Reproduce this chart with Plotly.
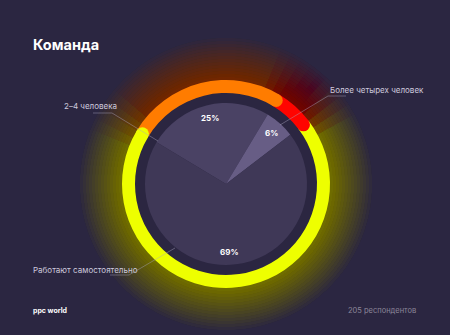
import math
import plotly.graph_objects as go

W, H = 450, 335
BG = "#2b2641"

# ---- data ----
categories = ["2–4 человека", "Более четырех человек", "Работают самостоятельно"]
values = [25, 6, 69]
pct_labels = ["25%", "6%", "69%"]
title_text = "Команда"
footer_left = "ppc world"
footer_right = "205 респондентов"

# ---- style ----
ring_colors = ["#ff7c00", "#ff0400", "#eeff00"]
pie_colors = ["#4a4264", "#675d85", "#3f3857"]
START = -59.0            # degrees clockwise from 12 o'clock
CX, CY = 226, 184        # pixel centre
R_RING, R_RING_IN = 104, 91
R_PIE = 81


def dom(r):
    return dict(x=[(CX - r) / W, (CX + r) / W],
                y=[1 - (CY + r) / H, 1 - (CY - r) / H])


def pt(r, ang):
    a = math.radians(ang)
    return (CX + r * math.sin(a)) / W, 1 - (CY - r * math.cos(a)) / H


fig = go.Figure()

# glow layers (slightly rotated copies soften the angular edges)
n_glow = 14
offsets = [-9, -4.5, 0, 4.5, 9]
for i in range(1, n_glow + 1):
    r = R_RING + 3.0 * i
    for off in offsets:
        fig.add_trace(go.Pie(values=values, labels=categories, sort=False,
                             direction="clockwise", rotation=START + off,
                             hole=(R_RING - 2) / r, domain=dom(r),
                             marker=dict(colors=ring_colors, line=dict(width=0)),
                             opacity=0.0055, textinfo="none", hoverinfo="skip",
                             showlegend=False))

# ring
fig.add_trace(go.Pie(values=values, labels=categories, sort=False,
                     direction="clockwise", rotation=START,
                     hole=R_RING_IN / R_RING, domain=dom(R_RING),
                     marker=dict(colors=ring_colors, line=dict(width=0)),
                     textinfo="none", hoverinfo="label+value", showlegend=False))

# inner pie
fig.add_trace(go.Pie(values=values, labels=categories, sort=False,
                     direction="clockwise", rotation=START,
                     domain=dom(R_PIE),
                     marker=dict(colors=pie_colors, line=dict(width=0)),
                     textinfo="none", hoverinfo="label+value", showlegend=False))

shapes = []
annotations = []
total = sum(values)
cum = START
mids = []
for v, col in zip(values, ring_colors):
    a0 = cum
    a1 = cum + v / total * 360
    mids.append((a0 + a1) / 2)
    # rounded cap at the clockwise end
    rc = (R_RING + R_RING_IN) / 2
    cr = (R_RING - R_RING_IN) / 2
    x, y = pt(rc, a1)
    shapes.append(dict(type="circle", xref="paper", yref="paper",
                       x0=x - cr / W, x1=x + cr / W, y0=y - cr / H, y1=y + cr / H,
                       fillcolor=col, line=dict(width=0), layer="above"))
    cum = a1

for lab, m in zip(pct_labels, mids):
    x, y = pt(R_PIE * 0.84, m)
    annotations.append(dict(text="<b>" + lab + "</b>", x=x, y=y, xref="paper", yref="paper",
                            showarrow=False, font=dict(family="Inter", size=8,
                                                       color="#ffffff"),
                            xanchor="center", yanchor="middle"))

LINE = dict(color="rgba(170,165,190,0.55)", width=0.8)


def seg(x0, y0, x1, y1):
    shapes.append(dict(type="line", xref="paper", yref="paper",
                       x0=x0 / W, x1=x1 / W, y0=1 - y0 / H, y1=1 - y1 / H,
                       line=LINE, layer="above"))


# leader lines (pixel layout)
seg(93, 113, 112, 113); seg(112, 113, 158, 141)
seg(328, 96, 346, 96); seg(328, 96, 280, 125)
seg(110, 275, 129, 275); seg(129, 275, 175, 248)

LBL = dict(family="Inter", size=8, color="#cdc9dc")
annotations += [
    dict(text=categories[0], x=62 / W, y=1 - 106 / H, xanchor="left", yanchor="middle",
         xref="paper", yref="paper", showarrow=False, font=LBL),
    dict(text=categories[1], x=328 / W, y=1 - 90 / H, xanchor="left", yanchor="middle",
         xref="paper", yref="paper", showarrow=False, font=LBL),
    dict(text=categories[2], x=31 / W, y=1 - 270 / H, xanchor="left", yanchor="middle",
         xref="paper", yref="paper", showarrow=False, font=LBL),
    dict(text="<b>" + title_text + "</b>", x=31 / W, y=1 - 45 / H, xanchor="left",
         yanchor="middle", xref="paper", yref="paper", showarrow=False,
         font=dict(family="Inter", size=14.5, color="#ffffff")),
    dict(text="<b>" + footer_left + "</b>", x=31 / W, y=1 - 310 / H, xanchor="left",
         yanchor="middle", xref="paper", yref="paper", showarrow=False,
         font=dict(family="Inter", size=7, color="#ffffff")),
    dict(text=footer_right, x=418 / W, y=1 - 310 / H, xanchor="right",
         yanchor="middle", xref="paper", yref="paper", showarrow=False,
         font=dict(family="Inter", size=7.5, color="#8b8699")),
]

fig.update_layout(width=W, height=H, margin=dict(l=0, r=0, t=0, b=0),
                  paper_bgcolor=BG, plot_bgcolor=BG,
                  shapes=shapes, annotations=annotations, showlegend=False)

fig.write_html("out.html")
